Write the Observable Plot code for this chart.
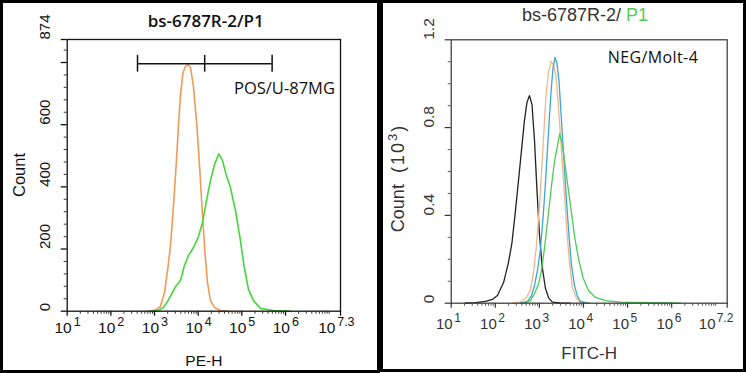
<!DOCTYPE html>
<html><head><meta charset="utf-8">
<script src="https://cdn.jsdelivr.net/npm/d3@7"></script>
<script src="https://cdn.jsdelivr.net/npm/@observablehq/plot@0.6"></script>
<style>
body{margin:0;background:#fff;}
#wrap{position:relative;width:746px;height:373px;overflow:hidden;background:#fff;}
.panel{position:absolute;box-sizing:border-box;border:3px solid #000;}
.abs{position:absolute;white-space:nowrap;line-height:24px;}
.rot{position:absolute;white-space:nowrap;line-height:20px;transform:translate(-50%,-50%) rotate(-90deg);}
.chart{position:absolute;top:0;}
</style></head><body>
<div id="wrap">
  <div class="panel" style="left:0;top:0;width:380px;height:373px;"></div>
  <div class="panel" style="left:380px;top:0;width:366px;height:372px;"></div>
  <div id="left" class="chart" style="left:0;"></div>
  <div id="right" class="chart" style="left:380px;"></div>
  <div class="abs" style="left:105.7px;width:200px;text-align:center;top:8.7px;font:600 17px 'Open Sans',sans-serif;color:#111;">bs-6787R-2/P1</div>
  <div class="abs" style="left:234px;top:76px;font:500 16.5px 'Open Sans',sans-serif;color:#111;">POS/U-87MG</div>
  <div class="abs" style="left:485px;width:200px;text-align:center;top:4.7px;font:400 18px 'Liberation Sans',Arial,sans-serif;color:#333;">bs-6787R-2/ <span style="color:#55cc55">P1</span></div>
  <div class="abs" style="left:607.7px;top:46.3px;font:500 16px 'Open Sans',sans-serif;color:#111;letter-spacing:0.4px;">NEG/Molt-4</div>
  <div class="rot" style="left:19px;top:175px;font:400 16.5px 'Liberation Sans',Arial,sans-serif;color:#111;">Count</div>
  <div class="rot" style="left:398.3px;top:178px;font:400 18px 'Liberation Sans',Arial,sans-serif;color:#333;">Count<span style="display:inline-block;width:11px"></span><span style="letter-spacing:2px">(10<sup style="font-size:13px;line-height:0">3</sup>)</span></div>
</div>
<script>
// ---------- data ----------
const decades = [10, 100, 1e3, 1e4, 1e5, 1e6];
const decadeExp = ["1", "2", "3", "4", "5", "6"];
const xMax = 10 ** 7.26;
const leftLastExp = "7.3";
const rightLastExp = "7.2";

// Left panel (PE-H, Count)
const leftOrangeX = [727,1052,1368,1690,2032,2318,2576,2864,3180,3533,3927,4484,5118,5838,6659,7797,9377,10990,12540,14320,16340,19140,23630,32430,49420];
const leftOrangeY = [0,4,15,60,141,211,292,388,485,597,694,768,787,793,784,723,594,446,308,189,92,34,12,2,0];
const leftGreenX = [807,1169,1603,1981,2445,3018,3929,4850,5991,7799,10160,12540,15480,19130,23620,29640,35980,44430,54850,71430,93000,111900,141900,184600,267000,529500,1297000];
const leftGreenY = [0,1,12,31,54,79,99,147,179,205,240,285,356,420,472,506,485,436,398,324,227,147,70,34,9,2,0];
const leftYMax = 874;
const leftYLabels = [0, 200, 400, 600, 874];
const leftYMajor = [0, 200, 400, 600, 800, 874];
const leftYMinor = [40,80,120,160,240,280,320,360,440,480,520,560,640,680,720,760,840];
const gateX = [408, 14100, 494000];
const gateY = 796;
const gateHalf = 27;

// Right panel (FITC-H, Count x10^3)
const rightBlackX = [21,36,60,86,112,154,199,239,287,345,403,459,523,597,680,775,883,1005,1157,1375,1633,1982,3008,5070];
const rightBlackY = [0.001,0.003,0.008,0.017,0.035,0.094,0.185,0.276,0.422,0.582,0.719,0.833,0.915,0.946,0.905,0.741,0.513,0.313,0.167,0.067,0.023,0.005,0.001,0];
const rightOrangeX = [246,373,510,628,734,859,1005,1145,1271,1411,1608,1833,2089,2379,2641,3010,3519,4117,4815,5633,6937,8546,14420];
const rightOrangeY = [0,0.005,0.026,0.062,0.140,0.263,0.445,0.627,0.787,0.946,1.051,1.101,1.087,1.037,0.923,0.764,0.559,0.354,0.185,0.071,0.021,0.003,0];
const rightBlueX = [373,537,662,775,906,1060,1208,1375,1608,1833,2033,2259,2506,2782,3170,3613,4117,4692,5347,6253,7312,8546,12970];
const rightBlueY = [0,0.008,0.035,0.080,0.149,0.249,0.386,0.550,0.778,0.960,1.070,1.120,1.092,1.014,0.832,0.650,0.468,0.309,0.172,0.081,0.031,0.008,0];
const rightGreenX = [459,628,775,954,1116,1305,1527,1833,2144,2506,2902,3344,3911,4575,5347,6253,7705,9753,12980,18700,31540,69000,330400,1582000];
const rightGreenY = [0,0.012,0.044,0.085,0.149,0.250,0.369,0.515,0.629,0.706,0.773,0.718,0.614,0.513,0.413,0.308,0.203,0.116,0.058,0.026,0.012,0.005,0.002,0];
const rightYMax = 1.2;
const rightYLabels = [0, 0.4, 0.8];
const rightYTop = [1.2];
const rightYMinor = [0.1,0.2,0.3,0.5,0.6,0.7,0.9,1.0,1.1];

// ---------- helpers ----------
const zip = (xs, ys) => xs.map((x, i) => ({x, y: ys[i]}));
const minorX = [];
for (const d of decades) for (let k = 2; k <= 9; k++) minorX.push(d * k);
minorX.push(1e7);
const decadeLabels = decades.map((v, i) => ({v, e: decadeExp[i]}));

function xTickLabels(o) {
  return [
    Plot.text(decadeLabels, {x: "v", text: () => "10", frameAnchor: "bottom", textAnchor: "end", lineAnchor: "bottom", dx: o.baseDx, dy: o.baseDy, fontSize: o.base, fill: o.color}),
    Plot.text(decadeLabels, {x: "v", text: "e", frameAnchor: "bottom", textAnchor: "start", lineAnchor: "bottom", dx: o.supDx, dy: o.supDy, fontSize: o.sup, fill: o.color}),
    Plot.text([xMax], {x: d => d, text: () => "10", frameAnchor: "bottom", textAnchor: "end", lineAnchor: "bottom", dx: o.lastBaseDx, dy: o.baseDy, fontSize: o.base, fill: o.color}),
    Plot.text([xMax], {x: d => d, text: () => o.lastExp, frameAnchor: "bottom", textAnchor: "start", lineAnchor: "bottom", dx: o.lastSupDx, dy: o.supDy, fontSize: o.sup, fill: o.color})
  ];
}

// ---------- left chart ----------
const left = Plot.plot({
  width: 380, height: 373,
  marginLeft: 66.7, marginRight: 40, marginTop: 39, marginBottom: 62.3,
  style: {background: "transparent", fontFamily: "'Liberation Sans', Arial, sans-serif", overflow: "visible"},
  x: {type: "log", domain: [10, xMax], axis: null},
  y: {domain: [0, leftYMax], axis: null},
  marks: [
    Plot.line(zip(leftOrangeX, leftOrangeY), {x: "x", y: "y", stroke: "#ef9a55", strokeWidth: 1.6}),
    Plot.line(zip(leftGreenX, leftGreenY), {x: "x", y: "y", stroke: "#44d63a", strokeWidth: 1.6}),
    Plot.ruleY([{y: gateY, x1: gateX[0], x2: gateX[2]}], {y: "y", x1: "x1", x2: "x2", stroke: "#111", strokeWidth: 1.5}),
    Plot.ruleX(gateX, {x: d => d, y1: () => gateY - gateHalf, y2: () => gateY + gateHalf, stroke: "#111", strokeWidth: 1.5}),
    Plot.frame({stroke: "#111", strokeWidth: 1.3}),
    Plot.axisX({ticks: decades.concat([xMax]), anchor: "bottom", tickSize: 5, fill: "none", stroke: "#111", strokeWidth: 1.3, label: null}),
    Plot.axisX({ticks: minorX, anchor: "bottom", tickSize: 3, fill: "none", stroke: "#333", label: null}),
    Plot.axisY({ticks: leftYMajor, anchor: "left", tickSize: 6, fill: "none", stroke: "#111", strokeWidth: 1.3, label: null}),
    Plot.axisY({ticks: leftYMinor, anchor: "left", tickSize: 3, fill: "none", stroke: "#333", label: null}),
    ...xTickLabels({base: 15.5, sup: 12.5, baseDx: 4.5, supDx: 6.5, baseDy: 22, supDy: 14.5, lastBaseDx: -5, lastSupDx: -3.3, lastExp: leftLastExp, color: "#111"}),
    Plot.text(leftYLabels, {y: d => d, text: d => String(d), frameAnchor: "left", dx: -21.7, rotate: -90, fontSize: 15, fill: "#111"}),
    Plot.text(["PE-H"], {frameAnchor: "bottom", lineAnchor: "middle", dy: 49.5, fontSize: 15.5, fill: "#111"})
  ]
});
document.getElementById("left").appendChild(left);

// ---------- right chart ----------
const right = Plot.plot({
  width: 366, height: 372,
  marginLeft: 70.7, marginRight: 19.3, marginTop: 39.3, marginBottom: 69.3,
  style: {background: "transparent", fontFamily: "'Liberation Sans', Arial, sans-serif", overflow: "visible"},
  x: {type: "log", domain: [10, xMax], axis: null},
  y: {domain: [0, rightYMax], axis: null},
  marks: [
    Plot.line(zip(rightBlackX, rightBlackY), {x: "x", y: "y", stroke: "#222", strokeWidth: 1.3}),
    Plot.line(zip(rightOrangeX, rightOrangeY), {x: "x", y: "y", stroke: "#f2b68a", strokeWidth: 1.3}),
    Plot.line(zip(rightBlueX, rightBlueY), {x: "x", y: "y", stroke: "#3aa6d8", strokeWidth: 1.3}),
    Plot.line(zip(rightGreenX, rightGreenY), {x: "x", y: "y", stroke: "#4ccc55", strokeWidth: 1.3}),
    Plot.frame({stroke: "#333", strokeWidth: 1.2}),
    Plot.axisX({ticks: decades.concat([xMax]), anchor: "bottom", tickSize: 5, fill: "none", stroke: "#333", strokeWidth: 1.2, label: null}),
    Plot.axisX({ticks: minorX, anchor: "bottom", tickSize: 3, fill: "none", stroke: "#555", label: null}),
    Plot.axisY({ticks: rightYLabels.concat(rightYTop), anchor: "left", tickSize: 6, fill: "none", stroke: "#333", strokeWidth: 1.2, label: null}),
    Plot.axisY({ticks: rightYMinor, anchor: "left", tickSize: 3, fill: "none", stroke: "#555", label: null}),
    ...xTickLabels({base: 15, sup: 12, baseDx: 1.5, supDx: 3, baseDy: 26, supDy: 19, lastBaseDx: -11.7, lastSupDx: -10.5, lastExp: rightLastExp, color: "#333"}),
    Plot.text(rightYLabels, {y: d => d, text: d => String(d), frameAnchor: "left", dx: -22.4, rotate: -90, fontSize: 15.5, fill: "#333"}),
    Plot.text(rightYTop, {y: d => d, text: d => String(d), frameAnchor: "left", dx: -22.4, rotate: -90, textAnchor: "start", fontSize: 15.5, fill: "#333"}),
    Plot.text(["FITC-H"], {frameAnchor: "bottom", lineAnchor: "middle", dy: 50, fontSize: 17, fill: "#333"})
  ]
});
document.getElementById("right").appendChild(right);
</script>
</body></html>
